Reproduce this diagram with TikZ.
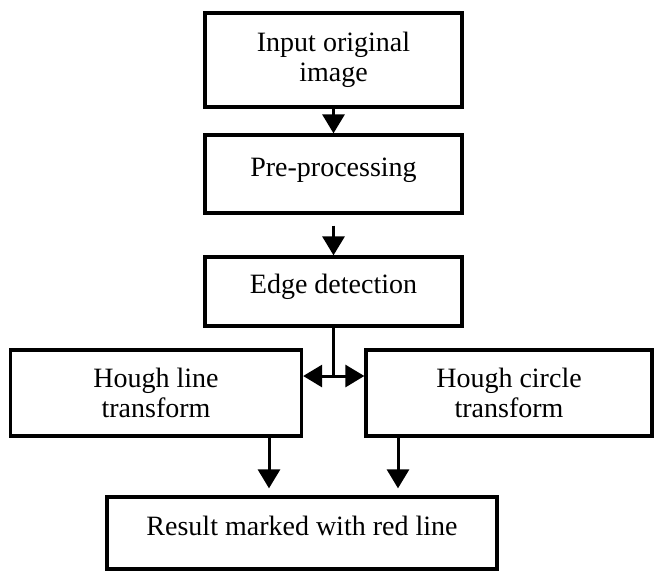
\documentclass[tikz,border=0pt]{standalone}
\usepackage{fontspec}
\setmainfont{Liberation Serif}
\usetikzlibrary{arrows.meta}
\tikzset{
  box/.style={draw, line width=3.3pt, inner sep=0pt, align=center, font=\fontsize{28}{30}\selectfont},
  oneline/.style={text height=19pt, text depth=15pt},
  arr/.style={line width=3pt, -{Triangle[width=22pt,length=19pt]}},
}
\begin{document}
\begin{tikzpicture}[x=1pt, y=-1pt]
  \useasboundingbox (0,0) rectangle (655,571);
  \node(input)[box, minimum width=257pt, minimum height=94pt] at(333.5,60) {Input original\\image};
  \node(pre)[box, oneline, minimum width=257pt, minimum height=78pt] at(333.5,174) {Pre-processing};
  \node(edge)[box, oneline, minimum width=257pt, minimum height=69pt] at(333.5,291.5) {Edge detection};
  \node(hline)[box, minimum width=291pt, minimum height=86pt] at(156,393) {Hough line\\transform};
  \node(hcirc)[box, minimum width=286pt, minimum height=86pt] at(509,393) {Hough circle\\transform};
  \node(result)[box, oneline, minimum width=390pt, minimum height=72pt] at(302,533) {Result marked with red line};
  \coordinate(split) at(333.5,376);
  \draw[arr] (input) -- (pre);
  \draw[arr] ([yshift=-11pt]pre.south) -- (edge.north);
  \draw[line width=3pt] (edge.south) -- (split);
  % one line, a tip on each end, out to both Hough boxes
  \draw[line width=3pt, {Triangle[width=22pt,length=19pt]}-{Triangle[width=22pt,length=19pt]}] (split -| hline.east) -- (split -| hcirc.west);
  \foreach \b/\s in {hline/113, hcirc/-111}{%
    \draw[arr, shorten >=7pt] ([xshift=\s pt]\b.south) -- ([xshift=\s pt]\b.south |- result.north);
  }
\end{tikzpicture}
\end{document}
